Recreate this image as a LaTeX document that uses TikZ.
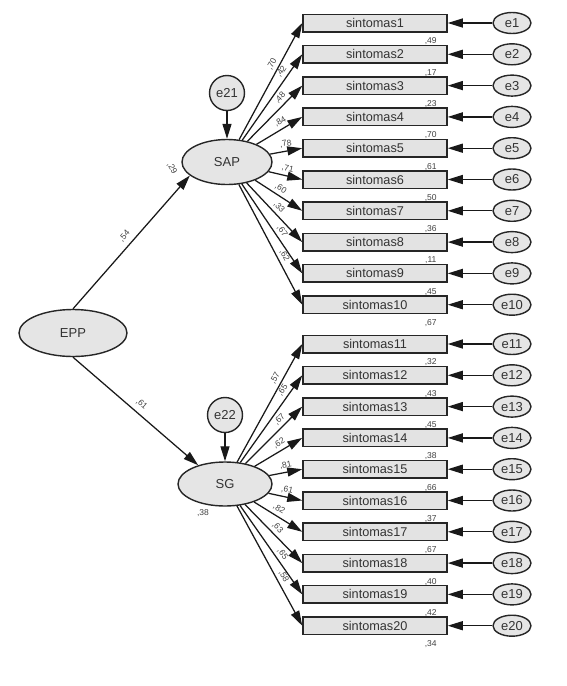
\documentclass[tikz,border=0pt]{standalone}
\usepackage{fontspec}
\setmainfont{Liberation Sans}
\usetikzlibrary{arrows.meta,shapes.geometric}
\tikzset{
  lat/.style={ellipse,draw=black!85,line width=1.4pt,fill=black!10,inner sep=0pt,
    font=\fontsize{13}{15}\selectfont,text=black!80},
  obs/.style={rectangle,draw=black!85,line width=1.5pt,fill=black!11,inner sep=0pt,
    minimum width=144pt,minimum height=17.5pt,font=\fontsize{12.7}{15}\selectfont,text=black!80},
  err/.style={lat,minimum width=38pt,minimum height=21pt},
  dist/.style={lat,circle,minimum size=35pt},
  arr/.style={-{Stealth[length=15pt,width=9pt,inset=0pt]},line width=1.25pt,black!90},
  coef/.style={sloped,above=2.5pt,inner sep=0.5pt,font=\fontsize{8.5}{9}\selectfont,text=black!75},
  rsq/.style={inner sep=0pt,font=\fontsize{8.5}{9}\selectfont,text=black!75}
}
\begin{document}
\begin{tikzpicture}[x=1pt,y=-1pt]
\useasboundingbox (0,0) rectangle (566,686);
%
\node[lat,minimum width=108pt,minimum height=47pt] (EPP) at (73,333) {EPP};
\node[lat,minimum width=90pt,minimum height=45pt] (SAP) at (227,162) {SAP};
\node[lat,minimum width=94pt,minimum height=44pt] (SG) at (225,484) {SG};
\node[dist] (e21) at (227,93) {e21};
\node[dist] (e22) at (225,415) {e22};
\draw[arr] (e21) -- (SAP);
\draw[arr] (e22) -- (SG);
\draw[arr] (EPP.north) -- (SAP.200) node[coef,midway,above=2pt] {,54};
\draw[arr] (EPP.south) -- (SG.145) node[coef,midway,above=2pt] {,61};
\node[rsq,rotate=-60] at (172,168) {,29};
\node[rsq] at (203,513) {,38};
%
\foreach \i/\c/\p/\r [evaluate=\i as \y using {23+31.3*(\i-1)}] in
  {1/70/.62/49, 2/42/.75/17, 3/48/.69/23, 4/84/.6/70, 5/78/.53/61,
   6/71/.52/50, 7/60/.46/36, 8/33/.49/11, 9/67/.57/45, 10/62/.62/67}{
  \node[obs] (s\i) at (375,\y) {sintomas\i};
  \node[err] (e\i) at (512,\y) {e\i};
  \draw[arr] (e\i) -- (s\i);
  \draw[arr] (SAP) -- (s\i.west) node[coef,pos=\p] {,\c};
  \node[rsq] at ([shift={(-17,9)}]s\i.south east) {,\r};
}
%
\foreach \i/\c/\p/\r [evaluate=\i as \y using {344+31.3*(\i-11)}] in
  {11/57/.68/32, 12/65/.78/43, 13/67/.69/45, 14/62/.59/38, 15/81/.54/66,
   16/61/.51/37, 17/82/.44/67, 18/63/.48/40, 19/65/.59/42, 20/58/.62/34}{
  \node[obs] (s\i) at (375,\y) {sintomas\i};
  \node[err] (e\i) at (512,\y) {e\i};
  \draw[arr] (e\i) -- (s\i);
  \draw[arr] (SG) -- (s\i.west) node[coef,pos=\p] {,\c};
  \node[rsq] at ([shift={(-17,9)}]s\i.south east) {,\r};
}
\end{tikzpicture}
\end{document}
